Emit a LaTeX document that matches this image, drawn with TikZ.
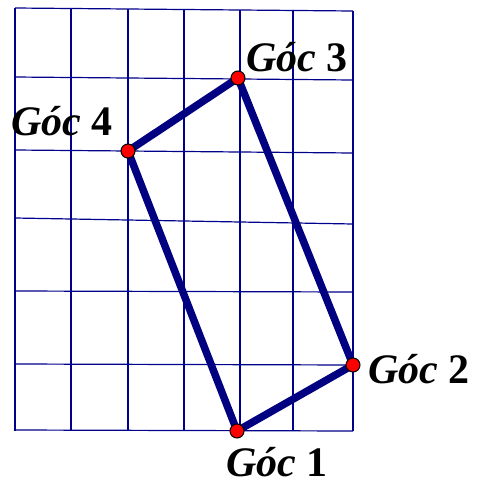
\documentclass[tikz,border=0pt]{standalone}
\usepackage{fontspec}
\setmainfont{Liberation Serif}
\usepackage{tikz}

\definecolor{gridblue}{RGB}{0,0,140}
\definecolor{edgeblue}{RGB}{0,0,128}
\definecolor{dotred}{RGB}{255,0,0}

\tikzset{
	gridline/.style={draw=gridblue, line width=1.2},
	edge/.style={draw=edgeblue, line width=7.5, line join=round},
	corner/.style={circle, fill=dotred, draw=black, line width=1, inner sep=0pt, minimum size=14},
	cornerlabel/.style={anchor=base west, inner sep=0pt, font=\fontsize{42}{46}\selectfont\bfseries}
}

\begin{document}
\begin{tikzpicture}[x=1pt,y=1pt,yscale=-1,xscale=1]
	\useasboundingbox (0,0) rectangle (479,485);
	
	%Grid: horizontal lines
	\foreach \ya/\yb in {8/11, 77/80, 150/153, 218/224, 291/292, 364/365, 430/431}
		\draw [gridline] (15,\ya) -- (353,\yb);
	%Grid: vertical lines
	\foreach \x/\yt in {15/8, 71/8.5, 128/9, 184/9.5, 240/10, 293/10.5, 353/11}
		\draw [gridline] (\x,\yt) -- (\x,431);
	
	%Corners
	\coordinate (g1) at (237,431);
	\coordinate (g2) at (353,365);
	\coordinate (g3) at (238,78);
	\coordinate (g4) at (128,151);
	
	%Rectangle
	\draw [edge] (g1) -- (g2) -- (g3) -- (g4) -- cycle;
	
	\node [corner] (d1) at (g1) {};
	\node [corner] (d2) at (g2) {};
	\node [corner] (d3) at (g3) {};
	\node [corner] (d4) at (g4) {};
	
	% Text Node
	\node [cornerlabel] (l1) at (226,476) {\textit{Góc} 1};
	\node [cornerlabel] (l2) at (368,383) {\textit{Góc} 2};
	\node [cornerlabel] (l3) at (246,71) {\textit{Góc} 3};
	\node [cornerlabel] (l4) at (11,135) {\textit{Góc} 4};
	
\end{tikzpicture}
\end{document}
